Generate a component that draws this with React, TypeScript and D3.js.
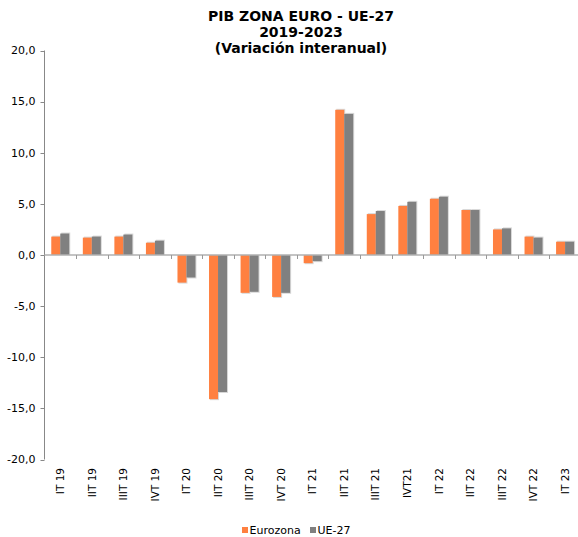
import React from 'react';
import * as d3 from 'd3';

const categories = [
  'IT 19', 'IIT 19', 'IIIT 19', 'IVT 19',
  'IT 20', 'IIT 20', 'IIIT 20', 'IVT 20',
  'IT 21', 'IIT 21', 'IIIT 21', 'IVT21',
  'IT 22', 'IIT 22', 'IIIT 22', 'IVT 22',
  'IT 23',
];
const eurozona = [1.8, 1.7, 1.8, 1.2, -2.7, -14.1, -3.7, -4.1, -0.8, 14.2, 4.0, 4.8, 5.5, 4.4, 2.5, 1.8, 1.3];
const ue27 = [2.1, 1.8, 2.0, 1.4, -2.2, -13.4, -3.6, -3.7, -0.6, 13.8, 4.3, 5.2, 5.7, 4.4, 2.6, 1.7, 1.3];
const yTicks = [-20, -15, -10, -5, 0, 5, 10, 15, 20];
const seriesNames = ['Eurozona', 'UE-27'];
const colors = ['#ff8040', '#808080'];

const W = 578;
const H = 537;
const font = '"DejaVu Sans", Verdana, sans-serif';

export default function App() {
  const left = 44.5;
  const step = 31.55;
  const x = d3.scaleBand().domain(categories).range([left, left + step * categories.length]);
  const y = d3.scaleLinear().domain([-20, 20]).range([459.5, 50.5]);
  const barW = 9;
  const fmt = (v: number) => d3.format('.1f')(v).replace('.', ',').replace('−', '-');
  const series = [eurozona, ue27];

  return (
    <svg width={W} height={H} style={{ position: 'absolute', left: 0, top: 0, background: '#fff' }}>
      {/* title */}
      <g fontFamily={font} fontWeight="bold" fontSize={14} textAnchor="middle" fill="#000">
        <text x={301} y={20.5}>PIB ZONA EURO - UE-27</text>
        <text x={301} y={36.5}>2019-2023</text>
        <text x={301} y={52.5}>(Variación interanual)</text>
      </g>

      {/* y axis */}
      <line x1={left} x2={left} y1={y(20)} y2={y(-20)} stroke="#888" />
      {yTicks.map(t => (
        <g key={t}>
          <line x1={left - 4} x2={left} y1={Math.round(y(t)) + 0.5} y2={Math.round(y(t)) + 0.5} stroke="#888" />
          <text x={35.5} y={y(t)} dy="0.35em" textAnchor="end" fontFamily={font} fontSize={11} fill="#000">
            {fmt(t)}
          </text>
        </g>
      ))}

      {/* bars */}
      {categories.map((c, i) => {
        const cx = (x(c) as number) + x.bandwidth() / 2;
        return series.map((s, k) => {
          const v = s[i];
          const x0 = k === 0 ? cx - barW : cx;
          const y0 = Math.min(y(v), y(0));
          const h = Math.abs(y(v) - y(0));
          return (
            <g key={c + k}>
              <rect x={x0 + 1} y={y0 - (v > 0 ? 1 : 0)} width={barW} height={h + 1} fill="#d9d9d9" />
              <rect x={x0} y={y0} width={barW} height={h} fill={colors[k]} />
            </g>
          );
        });
      })}

      {/* zero line and category ticks */}
      <line x1={left} x2={W} y1={y(0)} y2={y(0)} stroke="#b0b0b0" strokeWidth={1.5} />
      {categories.slice(1).map(c => (
        <line key={c} x1={Math.round(x(c) as number) + 0.5} x2={Math.round(x(c) as number) + 0.5}
          y1={y(0)} y2={y(0) + 4} stroke="#999" />
      ))}

      {/* x labels */}
      {categories.map(c => {
        const cx = (x(c) as number) + x.bandwidth() / 2;
        return (
          <text key={c} transform={`translate(${cx},468) rotate(-90)`} dy="0.35em" textAnchor="end"
            fontFamily={font} fontSize={10.5} fill="#000">
            {c}
          </text>
        );
      })}

      {/* legend */}
      <g fontFamily={font} fontSize={11} fill="#000">
        {seriesNames.map((n, k) => {
          const lx = k === 0 ? 242 : 310;
          return (
            <g key={n}>
              <rect x={lx} y={527} width={6} height={6} fill={colors[k]} />
              <text x={lx + 7.5} y={534}>{n}</text>
            </g>
          );
        })}
      </g>
    </svg>
  );
}
